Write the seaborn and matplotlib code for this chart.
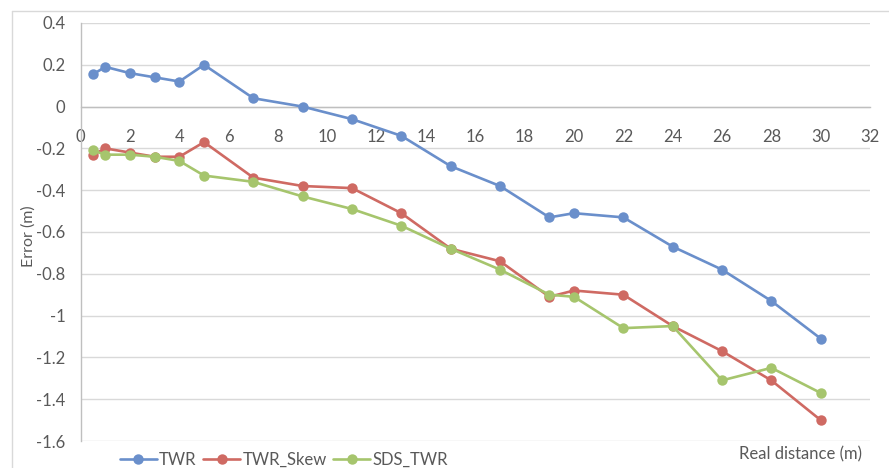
import matplotlib
matplotlib.use("Agg")
import matplotlib.pyplot as plt
import seaborn as sns
import pandas as pd
from matplotlib.lines import Line2D

distance = [0.5, 1, 2, 3, 4, 5, 7, 9, 11, 13, 15, 17, 19, 20, 22, 24, 26, 28, 30]
twr = [0.155, 0.19, 0.16, 0.14, 0.12, 0.2, 0.04, 0.0, -0.06, -0.14, -0.285, -0.38,
       -0.53, -0.51, -0.53, -0.67, -0.78, -0.93, -1.11]
twr_skew = [-0.23, -0.20, -0.22, -0.24, -0.24, -0.17, -0.34, -0.38, -0.39, -0.51, -0.68,
            -0.74, -0.91, -0.88, -0.90, -1.05, -1.17, -1.31, -1.50]
sds_twr = [-0.21, -0.23, -0.23, -0.24, -0.26, -0.33, -0.36, -0.43, -0.49, -0.57, -0.68,
           -0.78, -0.90, -0.91, -1.06, -1.05, -1.31, -1.25, -1.37]
series_names = ["TWR", "TWR_Skew", "SDS_TWR"]
x_ticks = list(range(0, 33, 2))
y_ticks = [0.4, 0.2, 0, -0.2, -0.4, -0.6, -0.8, -1, -1.2, -1.4, -1.6]
y_tick_labels = ["0.4", "0.2", "0", "-0.2", "-0.4", "-0.6", "-0.8", "-1", "-1.2", "-1.4", "-1.6"]

colors = ["#6A8FCB", "#CF6A63", "#A6C56D"]
text_color = "#595959"
fs = 12

rows = []
for name, vals in zip(series_names, [twr, twr_skew, sds_twr]):
    for xv, yv in zip(distance, vals):
        rows.append({"x": xv, "y": yv, "series": name})
df = pd.DataFrame(rows)

sns.set_style("white")
plt.rcParams["font.family"] = ["Lato", "DejaVu Sans"]

fig = plt.figure(figsize=(8.89, 4.68), dpi=100)
ax = fig.add_axes([80.7 / 889, 1 - 441 / 468, (870 - 80.7) / 889, (441 - 23) / 468])

sns.lineplot(data=df, x="x", y="y", hue="series", style="series",
             markers=["o", "o", "o"], dashes=False, palette=colors,
             hue_order=series_names, style_order=series_names,
             linewidth=1.9, markersize=7.5, markeredgewidth=0, legend=False, ax=ax,
             zorder=3)

ax.set_xlim(0, 32)
ax.set_ylim(-1.6, 0.4)
ax.set_xticks(x_ticks)
ax.set_yticks(y_ticks)
ax.set_yticklabels(y_tick_labels)
ax.grid(axis="y", color="#D9D9D9", linewidth=1.0)
ax.grid(axis="x", visible=False)
ax.set_axisbelow(True)

for s in ["top", "right"]:
    ax.spines[s].set_visible(False)
ax.spines["left"].set_color("#BFBFBF")
ax.spines["left"].set_linewidth(1.0)
ax.spines["bottom"].set_position(("data", 0))
ax.spines["bottom"].set_color("#BFBFBF")
ax.spines["bottom"].set_linewidth(1.0)

ax.tick_params(axis="y", length=4, color="#BFBFBF", labelcolor=text_color, labelsize=fs, pad=7)
ax.tick_params(axis="x", length=0, labelcolor=text_color, labelsize=fs, pad=16)

ax.set_xlabel("")
ax.set_ylabel("Error (m)", color=text_color, fontsize=11.5, labelpad=4)
ax.yaxis.set_label_coords(-0.057, 0.49)

fig.text(862 / 889, 1 - 454 / 468, "Real distance (m)", ha="right", va="center",
         color=text_color, fontsize=fs)

# chart area border
fig.add_artist(Line2D([12 / 889, 12 / 889], [1 - 11 / 468, -0.1], transform=fig.transFigure,
                      color="#D9D9D9", linewidth=1.0))
fig.add_artist(Line2D([12 / 889, 1.1], [1 - 11 / 468, 1 - 11 / 468], transform=fig.transFigure,
                      color="#D9D9D9", linewidth=1.0))

handles = [Line2D([0], [0], color=c, linewidth=1.9, marker="o", markersize=7.5,
                  markeredgewidth=0) for c in colors]
fig.legend(handles, series_names, loc="center", bbox_to_anchor=(284 / 889, 1 - 460 / 468),
           ncol=3, frameon=False, fontsize=fs, labelcolor=text_color,
           handlelength=2.2, handletextpad=0.15, columnspacing=0.4, borderaxespad=0)

fig.savefig("out.png", dpi=100)
